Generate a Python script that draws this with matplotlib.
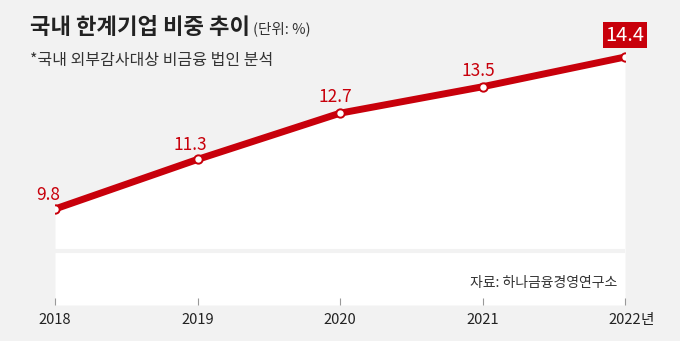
import matplotlib
matplotlib.use("Agg")
import matplotlib.pyplot as plt

plt.rcParams["font.family"] = ["Noto Sans CJK KR", "DejaVu Sans"]

# data
years = [2018, 2019, 2020, 2021, 2022]
share = [9.8, 11.3, 12.7, 13.5, 14.4]
tick_labels = ["2018", "2019", "2020", "2021", "2022"]

RED = "#c8000b"
BG = "#f2f2f2"
DARK = "#222222"

fig = plt.figure(figsize=(6.8, 3.41), dpi=100, facecolor=BG)
W, H = 680, 341
ax = fig.add_axes([55 / W, 36 / H, 570 / W, 305 / H])
ax.set_facecolor("none")
ax.set_xlim(2018, 2022)
y0, y1 = 6.894, 16.126
ax.set_ylim(y0, y1)

# white area under the line + gray separator band
ax.fill_between(years, share, y0, color="white", lw=0, zorder=1)
ax.axhline(8.53, color=BG, lw=2.9, zorder=2)

ax.plot(years, share, color=RED, lw=5, solid_capstyle="butt", zorder=3)
ax.plot(years, share, ls="none", marker="o", ms=6, mfc="white", mec=RED,
        mew=1.4, zorder=4)

offsets = [(-7, 14), (-7, 14), (-5, 16), (-4, 16)]
for x, v, off in zip(years[:-1], share[:-1], offsets):
    ax.annotate(f"{v:.1f}", (x, v), xytext=off, textcoords="offset pixels",
                ha="center", va="center", color=RED, fontsize=12.5,
                fontweight="light", zorder=5)

ax.annotate(f"{share[-1]:.1f}", (years[-1], share[-1]), xytext=(0, 22),
            textcoords="offset pixels", ha="center", va="center",
            color="white", fontsize=14.5, zorder=5,
            bbox=dict(boxstyle="square,pad=0.12", fc=RED, ec="none"))

ax.set_xticks(years)
ax.set_xticklabels(tick_labels, fontsize=10.5, color=DARK, fontweight="light")
ax.tick_params(axis="x", direction="in", length=5, width=0.8, color="#999999", pad=6)
ax.set_yticks([])
for s in ax.spines.values():
    s.set_visible(False)
ax.annotate("년", (2022, y0), xytext=(15, -15), textcoords="offset pixels",
            ha="left", va="center", fontsize=10.5, color=DARK,
            fontweight="light", annotation_clip=False)

# titles
fig.text(30 / W, 1 - 28 / H, "국내 한계기업 비중 추이", fontsize=16,
         fontweight="bold", color=DARK, va="center", ha="left")
fig.text(253 / W, 1 - 29 / H, "(단위: %)", fontsize=10.5, color="#333333",
         fontweight="light", va="center", ha="left")
fig.text(30 / W, 1 - 60 / H, "*국내 외부감사대상 비금융 법인 분석", fontsize=11.5,
         color="#333333", fontweight="light", va="center", ha="left")
fig.text(617 / W, 1 - 283 / H, "자료: 하나금융경영연구소", fontsize=10,
         color="#333333", fontweight="light", va="center", ha="right")

fig.savefig("out.png", dpi=100, facecolor=BG)
